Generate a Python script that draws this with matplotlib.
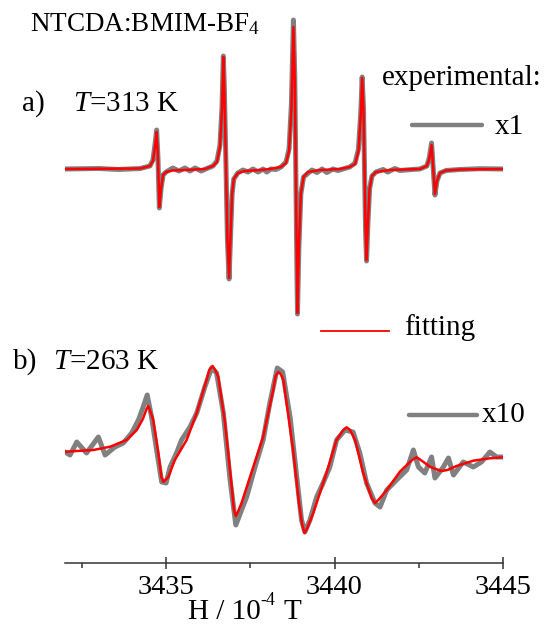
import matplotlib

matplotlib.use('Agg')
import matplotlib.pyplot as plt

plt.rcParams['font.family'] = ['Liberation Serif', 'DejaVu Serif']
plt.rcParams['mathtext.fontset'] = 'custom'
plt.rcParams['mathtext.rm'] = 'Liberation Serif'
plt.rcParams['mathtext.it'] = 'Liberation Serif:italic'

# magnetic field (10^-4 T) and intensity (arb. units)
# a) T = 313 K, fitting
fit_a_h = [3432.00, 3434.23, 3434.52, 3434.61, 3434.67, 3434.72, 3434.76, 3434.80,
           3434.85, 3434.91, 3435.00, 3435.18, 3435.56,
           3436.15, 3436.39, 3436.51, 3436.60, 3436.66, 3436.70, 3436.73, 3436.78,
           3436.82, 3436.87, 3436.91, 3436.96, 3437.01, 3437.13, 3437.34, 3437.79,
           3438.08, 3438.41, 3438.56, 3438.65, 3438.72, 3438.78, 3438.82, 3438.85,
           3438.88, 3438.90, 3438.94, 3439.00, 3439.08, 3439.21, 3439.57,
           3440.16, 3440.45, 3440.61, 3440.71, 3440.78, 3440.82, 3440.86, 3440.89,
           3440.92, 3440.95, 3440.99, 3441.04, 3441.11, 3441.23, 3441.64,
           3442.53, 3442.74, 3442.81, 3442.88, 3442.93, 3442.98, 3443.04, 3443.13,
           3443.31, 3443.72, 3445.00]
fit_a_i = [0, 0.5, 3, 8, 22, 37, 10, -38,
           -20, -6, -3, -1.5, -1,
           0, 3, 7, 22, 60, 112, 80, 0,
           -70, -109, -70, -25, -10, -4, -2, -1,
           0, 2, 6, 18, 60, 142, 90, 0,
           -90, -144, -80, -25, -8, -3, -1,
           0, 2, 5, 18, 55, 91, 60, 0,
           -60, -91, -55, -20, -7, -3, -1,
           0, 3, 10, 24, 0, -25, -12, -4,
           -1.5, -0.5, 0]

# a) experimental
exp_a_h = [3432.00, 3433.00, 3433.60, 3434.23, 3434.52, 3434.61, 3434.67, 3434.72,
           3434.76, 3434.80, 3434.85, 3434.91, 3435.00,
           3435.20, 3435.38, 3435.56, 3435.71, 3435.86, 3436.04, 3436.21,
           3436.39, 3436.51, 3436.60, 3436.66, 3436.70, 3436.73, 3436.78, 3436.82,
           3436.87, 3436.91, 3436.96, 3437.01, 3437.13,
           3437.28, 3437.43, 3437.58, 3437.73, 3437.88, 3437.99, 3438.11, 3438.26,
           3438.41, 3438.56, 3438.65, 3438.72, 3438.78, 3438.82, 3438.85, 3438.88,
           3438.90, 3438.94, 3439.00, 3439.08,
           3439.33, 3439.48, 3439.63, 3439.77, 3439.95, 3440.10,
           3440.45, 3440.61, 3440.71, 3440.78, 3440.82, 3440.86, 3440.89, 3440.92,
           3440.95, 3440.99, 3441.04, 3441.11, 3441.23,
           3441.44, 3441.58, 3441.79, 3441.94, 3442.30,
           3442.53, 3442.74, 3442.81, 3442.88, 3442.93, 3442.98, 3443.04, 3443.13,
           3443.31, 3443.72, 3444.30, 3445.00]
exp_a_i = [0, 0.5, -0.5, 0.5, 3, 9, 24, 39,
           10, -39, -20, -6, -3,
           1, -2, 1, -2, 1, -2, 0.5,
           3, 8, 24, 62, 113, 80, 0, -70,
           -110, -70, -25, -10, -4,
           -1, -3, 0, -3, 0, -3, 0, -0.5,
           2, 7, 20, 65, 149, 92, 0, -92,
           -145, -80, -25, -8,
           -1, -3.5, 0, -3.5, 0, -1.5,
           2, 6, 20, 57, 92, 60, 0, -60,
           -92, -55, -20, -7, -3,
           -0.5, -3, 0.5, -1.5, -0.5,
           0, 3, 11, 26, 0, -26, -12, -4,
           -1.5, -0.5, 0.3, 0]

# b) T = 263 K, fitting
fit_b_h = [3432.00, 3432.84, 3433.34, 3433.83, 3434.13, 3434.31, 3434.42, 3434.47,
           3434.52, 3434.62, 3434.77, 3434.86, 3434.92, 3434.98, 3435.07, 3435.26,
           3435.61, 3435.91, 3436.20, 3436.28, 3436.38, 3436.46, 3436.55, 3436.75,
           3436.95, 3437.01, 3437.07, 3437.13, 3437.24, 3437.59, 3437.88, 3438.18,
           3438.25, 3438.33, 3438.40, 3438.48, 3438.77, 3438.94, 3439.04, 3439.11,
           3439.18, 3439.37, 3439.76, 3440.06, 3440.26, 3440.36, 3440.46, 3440.61,
           3440.85, 3441.10, 3441.20, 3441.30, 3441.55, 3441.94, 3442.30, 3442.44,
           3442.60, 3442.83, 3443.00, 3443.18, 3443.35, 3443.62, 3444.12, 3444.61,
           3445.00]
fit_b_i = [0.3, 2, 5.3, 12, 22, 33, 43, 46,
           42, 32, -1, -25, -29.7, -28, -24.7, -8,
           12, 39, 72, 82, 86, 82, 75, 29,
           -34.7, -57, -64, -60, -51, -14.7, 15, 62,
           76, 80, 78, 72, 2, -50, -73, -81,
           -77, -61, -21, 12, 22, 24.7, 22, 12,
           -21, -46, -51, -48, -38, -19.7, -8, -5.3,
           -9, -14.7, -17, -19, -18, -14, -8.7, -6.3,
           -5.3]

# b) experimental
exp_b_h = [3432.00, 3432.15, 3432.35, 3432.64, 3432.99, 3433.19, 3433.48, 3433.73,
           3433.98, 3434.18, 3434.32, 3434.44, 3434.57, 3434.72, 3434.87, 3435.00,
           3435.12, 3435.31, 3435.46, 3435.71, 3435.91, 3436.15, 3436.35, 3436.50,
           3436.70, 3436.90, 3437.07, 3437.24, 3437.39, 3437.64, 3437.88, 3438.08,
           3438.30, 3438.46, 3438.68, 3439.02, 3439.12, 3439.27, 3439.47, 3439.66,
           3439.86, 3440.06, 3440.31, 3440.55, 3440.75, 3440.95, 3441.20, 3441.35,
           3441.55, 3441.84, 3442.14, 3442.34, 3442.49, 3442.68, 3442.88, 3442.98,
           3443.23, 3443.38, 3443.53, 3443.82, 3444.12, 3444.36, 3444.61, 3444.81,
           3445.00]
exp_b_i = [0, -3, 10, -1, 15, -3, 5, 9,
           19, 32, 45, 57, 35, 2, -30, -31,
           -15, -1, 12, 25, 39, 65, 84, 79,
           39, -28, -73, -58, -45, -15, 12, 49,
           84, 80, 35, -68, -80, -68, -45, -31,
           -15, 12, 22, 20, -1, -31, -51, -55,
           -38, -28, -18, 2, -15, -21, -5, -26,
           -15, -6, -23, -10, -15, -10, 0, -5,
           -5]

offset_a = 394
offset_b = 111

fig = plt.figure(figsize=(5.44, 6.25), dpi=100)
ax = fig.add_axes([65 / 544, 62 / 625, 438 / 544, 563 / 625])

grey = '#808080'
red = '#ff0000'

ax.plot(exp_a_h, [v + offset_a for v in exp_a_i], color=grey, lw=3.6,
        solid_capstyle='round', solid_joinstyle='round')
ax.plot(fit_a_h, [v + offset_a for v in fit_a_i], color=red, lw=1.8)
ax.plot(exp_b_h, [v + offset_b for v in exp_b_i], color=grey, lw=3.6,
        solid_capstyle='round', solid_joinstyle='round')
ax.plot(fit_b_h, [v + offset_b for v in fit_b_i], color=red, lw=1.8,
        solid_joinstyle='round')

ax.set_xlim(3432, 3445)
ax.set_ylim(0, 563)
ax.set_xticks([3435, 3440, 3445])
ax.set_xticks([3432.5, 3437.5, 3442.5], minor=True)
ax.set_yticks([])
for s in ['top', 'left', 'right']:
    ax.spines[s].set_visible(False)
ax.spines['bottom'].set_color('#333333')
ax.spines['bottom'].set_linewidth(1.1)
ax.tick_params(axis='x', which='major', direction='inout', length=9, width=1.1,
               color='#333333', labelsize=20.5, pad=4)
ax.tick_params(axis='x', which='minor', direction='out', length=3.5, width=1.1,
               color='#333333')
ax.patch.set_visible(False)


def fx(px):
    return px / 544


def fy(py):
    return 1 - py / 625


fig.text(fx(30), fy(24), 'NTCDA:BMIM-BF$_4$', fontsize=19.5, va='center')
fig.text(fx(22), fy(104), 'a)', fontsize=21, va='center')
fig.text(fx(73), fy(104), '$T$=313 K', fontsize=21, va='center')
fig.text(fx(382), fy(78), 'experimental:', fontsize=21, va='center')
fig.add_artist(plt.Line2D([fx(412), fx(482)], [fy(125), fy(125)], color=grey, lw=3.2,
                          solid_capstyle='round'))
fig.text(fx(495), fy(127), 'x1', fontsize=21, va='center')
fig.add_artist(plt.Line2D([fx(321), fx(389)], [fy(331), fy(331)], color=red, lw=1.3))
fig.text(fx(404), fy(328), 'fitting', fontsize=21, va='center')
fig.text(fx(13), fy(362), 'b)', fontsize=21, va='center')
fig.text(fx(53), fy(362), '$T$=263 K', fontsize=21, va='center')
fig.add_artist(plt.Line2D([fx(409), fx(477)], [fy(415), fy(415)], color=grey, lw=3.2,
                          solid_capstyle='round'))
fig.text(fx(482), fy(415), 'x10', fontsize=21, va='center')

# axis label, built from pieces so the exponent keeps its plain hyphen
fig.text(fx(188), fy(619), 'H / 10', fontsize=21, va='baseline')
fig.text(fx(260), fy(605), '-4', fontsize=13, va='baseline')
fig.text(fx(284), fy(619), 'T', fontsize=21, va='baseline')

fig.savefig('out.png', dpi=100)
